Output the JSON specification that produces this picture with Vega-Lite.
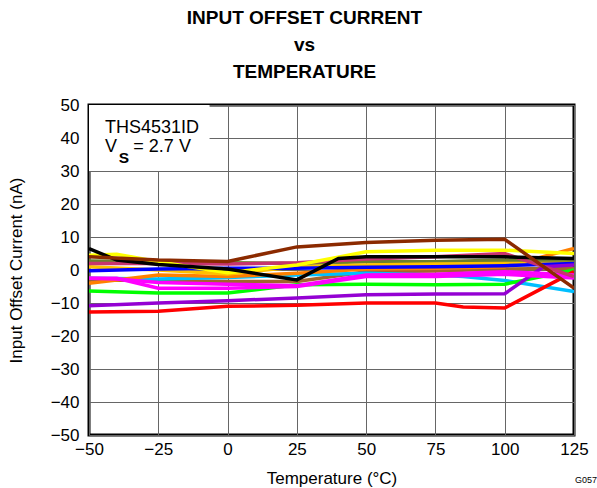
{
  "$schema": "https://vega.github.io/schema/vega-lite/v6.json",
  "width": 485,
  "height": 330,
  "autosize": "none",
  "padding": {"left": 89, "top": 105, "right": 23, "bottom": 53},
  "background": "white",
  "title": {
    "text": ["INPUT OFFSET CURRENT", "vs", "TEMPERATURE"],
    "font": "Liberation Sans",
    "fontSize": 19,
    "fontWeight": "bold",
    "lineHeight": 27,
    "color": "black",
    "anchor": "middle",
    "dx": -27,
    "offset": 14
  },
  "config": {
    "view": {"stroke": "black", "strokeWidth": 3},
    "axis": {
      "labelFont": "Liberation Sans",
      "titleFont": "Liberation Sans",
      "labelFontSize": 17,
      "titleFontSize": 17,
      "titleFontWeight": "normal",
      "labelColor": "black",
      "titleColor": "black",
      "ticks": false,
      "domain": false,
      "labelOverlap": false,
      "gridColor": "#666666",
      "gridOpacity": 1,
      "gridWidth": 1
    }
  },
  "datasets": {
    "curves": [
      {"s": "a_tan", "t": -50, "v": -3}, {"s": "a_tan", "t": -25, "v": -3.2}, {"s": "a_tan", "t": 0, "v": -3.5}, {"s": "a_tan", "t": 25, "v": -3.5}, {"s": "a_tan", "t": 50, "v": -0.5}, {"s": "a_tan", "t": 75, "v": -0.3}, {"s": "a_tan", "t": 100, "v": 0.3}, {"s": "a_tan", "t": 125, "v": 0.5},
      {"s": "b_cyan", "t": -50, "v": -2.5}, {"s": "b_cyan", "t": -25, "v": -2.7}, {"s": "b_cyan", "t": 0, "v": -2.3}, {"s": "b_cyan", "t": 25, "v": -1.5}, {"s": "b_cyan", "t": 50, "v": -1}, {"s": "b_cyan", "t": 75, "v": -1.5}, {"s": "b_cyan", "t": 85, "v": -2}, {"s": "b_cyan", "t": 100, "v": -3.2}, {"s": "b_cyan", "t": 125, "v": -6.5},
      {"s": "c_orange", "t": -50, "v": -4}, {"s": "c_orange", "t": -40, "v": -3}, {"s": "c_orange", "t": -25, "v": -1.5}, {"s": "c_orange", "t": 0, "v": -2}, {"s": "c_orange", "t": 25, "v": -1}, {"s": "c_orange", "t": 50, "v": 0.3}, {"s": "c_orange", "t": 75, "v": 0.5}, {"s": "c_orange", "t": 100, "v": 1}, {"s": "c_orange", "t": 125, "v": 6.5},
      {"s": "d_olive", "t": -50, "v": 2.7}, {"s": "d_olive", "t": -25, "v": 2.5}, {"s": "d_olive", "t": 0, "v": 2.2}, {"s": "d_olive", "t": 25, "v": 2}, {"s": "d_olive", "t": 50, "v": 2.5}, {"s": "d_olive", "t": 75, "v": 2.5}, {"s": "d_olive", "t": 100, "v": 3}, {"s": "d_olive", "t": 125, "v": 2.8},
      {"s": "e_gold", "t": -50, "v": 1}, {"s": "e_gold", "t": -25, "v": 0}, {"s": "e_gold", "t": 0, "v": -1.2}, {"s": "e_gold", "t": 25, "v": 1}, {"s": "e_gold", "t": 50, "v": 1.5}, {"s": "e_gold", "t": 75, "v": 1.8}, {"s": "e_gold", "t": 100, "v": 2}, {"s": "e_gold", "t": 125, "v": 2},
      {"s": "f_blue", "t": -50, "v": -0.2}, {"s": "f_blue", "t": -25, "v": 0.3}, {"s": "f_blue", "t": 0, "v": 0.5}, {"s": "f_blue", "t": 25, "v": 0.5}, {"s": "f_blue", "t": 50, "v": 0.8}, {"s": "f_blue", "t": 75, "v": 1}, {"s": "f_blue", "t": 100, "v": 1.3}, {"s": "f_blue", "t": 125, "v": 2},
      {"s": "g_green", "t": -50, "v": -6.4}, {"s": "g_green", "t": -25, "v": -7}, {"s": "g_green", "t": 0, "v": -7}, {"s": "g_green", "t": 25, "v": -4.5}, {"s": "g_green", "t": 50, "v": -4.3}, {"s": "g_green", "t": 75, "v": -4.5}, {"s": "g_green", "t": 100, "v": -4.3}, {"s": "g_green", "t": 125, "v": 0},
      {"s": "h_purple", "t": -50, "v": -10.8}, {"s": "h_purple", "t": -25, "v": -10}, {"s": "h_purple", "t": 0, "v": -9.3}, {"s": "h_purple", "t": 25, "v": -8.5}, {"s": "h_purple", "t": 50, "v": -7.5}, {"s": "h_purple", "t": 75, "v": -7.3}, {"s": "h_purple", "t": 100, "v": -7.2}, {"s": "h_purple", "t": 114, "v": 1}, {"s": "h_purple", "t": 125, "v": 1.5},
      {"s": "i_red", "t": -50, "v": -12.7}, {"s": "i_red", "t": -25, "v": -12.5}, {"s": "i_red", "t": 0, "v": -11}, {"s": "i_red", "t": 25, "v": -10.7}, {"s": "i_red", "t": 50, "v": -10}, {"s": "i_red", "t": 75, "v": -10}, {"s": "i_red", "t": 85, "v": -11.2}, {"s": "i_red", "t": 100, "v": -11.5}, {"s": "i_red", "t": 125, "v": -0.5},
      {"s": "j_magenta2", "t": -50, "v": -2.5}, {"s": "j_magenta2", "t": -40, "v": -2.7}, {"s": "j_magenta2", "t": -25, "v": -3.8}, {"s": "j_magenta2", "t": 0, "v": -4.3}, {"s": "j_magenta2", "t": 25, "v": -4.8}, {"s": "j_magenta2", "t": 50, "v": -1.5}, {"s": "j_magenta2", "t": 75, "v": -1.3}, {"s": "j_magenta2", "t": 100, "v": -0.5}, {"s": "j_magenta2", "t": 125, "v": -1.5},
      {"s": "k_magenta", "t": -50, "v": -2.5}, {"s": "k_magenta", "t": -40, "v": -2.5}, {"s": "k_magenta", "t": -25, "v": -5.5}, {"s": "k_magenta", "t": 0, "v": -5.5}, {"s": "k_magenta", "t": 25, "v": -5}, {"s": "k_magenta", "t": 50, "v": -2}, {"s": "k_magenta", "t": 75, "v": -2}, {"s": "k_magenta", "t": 100, "v": -1.3}, {"s": "k_magenta", "t": 125, "v": -2.4},
      {"s": "l_pink", "t": -50, "v": 2}, {"s": "l_pink", "t": -25, "v": 2}, {"s": "l_pink", "t": 0, "v": 1.8}, {"s": "l_pink", "t": 25, "v": 2.2}, {"s": "l_pink", "t": 50, "v": 3.3}, {"s": "l_pink", "t": 75, "v": 4}, {"s": "l_pink", "t": 100, "v": 5}, {"s": "l_pink", "t": 125, "v": -2},
      {"s": "m_yellow", "t": -50, "v": 4.5}, {"s": "m_yellow", "t": -40, "v": 4.8}, {"s": "m_yellow", "t": -25, "v": 2.5}, {"s": "m_yellow", "t": 0, "v": -0.8}, {"s": "m_yellow", "t": 25, "v": 1.5}, {"s": "m_yellow", "t": 50, "v": 5.5}, {"s": "m_yellow", "t": 75, "v": 6}, {"s": "m_yellow", "t": 100, "v": 6}, {"s": "m_yellow", "t": 125, "v": 5},
      {"s": "n_black", "t": -50, "v": 6.5}, {"s": "n_black", "t": -40, "v": 3}, {"s": "n_black", "t": -25, "v": 1.7}, {"s": "n_black", "t": 0, "v": 0.3}, {"s": "n_black", "t": 25, "v": -3}, {"s": "n_black", "t": 40, "v": 3.5}, {"s": "n_black", "t": 50, "v": 4}, {"s": "n_black", "t": 75, "v": 4}, {"s": "n_black", "t": 100, "v": 4}, {"s": "n_black", "t": 125, "v": 3.5},
      {"s": "o_brown", "t": -50, "v": 4}, {"s": "o_brown", "t": -25, "v": 3}, {"s": "o_brown", "t": 0, "v": 2.6}, {"s": "o_brown", "t": 25, "v": 7}, {"s": "o_brown", "t": 50, "v": 8.3}, {"s": "o_brown", "t": 75, "v": 9}, {"s": "o_brown", "t": 100, "v": 9.3}, {"s": "o_brown", "t": 125, "v": -5.5}
    ],
    "box": [{"x": -50, "x2": -6.5, "y": 30, "y2": 50}],
    "line1": [{"label": "THS4531ID", "x": -44.2, "y": 41.4}],
    "lineV": [{"label": "V", "x": -44.2, "y": 35.85}],
    "lineS": [{"label": "S", "x": -39.3, "y": 32.5}],
    "lineEq": [{"label": "= 2.7 V", "x": -34.0, "y": 35.85}],
    "code": [{"label": "G057", "x": 125, "y": -50}]
  },
  "layer": [
    {
      "data": {"name": "box"},
      "mark": {"type": "rect", "fill": "white", "stroke": null},
      "encoding": {
        "x": {"field": "x", "type": "quantitative", "scale": {"domain": [-50, 125], "nice": false, "zero": false},
          "axis": {"values": [-50, -25, 0, 25, 50, 75, 100, 125], "tickCount": 20, "title": "Temperature (°C)", "labelFlush": false, "labelPadding": 6, "titlePadding": 13}},
        "x2": {"field": "x2"},
        "y": {"field": "y", "type": "quantitative", "scale": {"domain": [-50, 50], "nice": false, "zero": false},
          "axis": {"values": [-50, -40, -30, -20, -10, 0, 10, 20, 30, 40, 50], "tickCount": 20, "title": "Input Offset Current (nA)", "labelPadding": 10, "titlePadding": 25}},
        "y2": {"field": "y2"}
      }
    },
    {
      "data": {"name": "curves"},
      "mark": {"type": "line", "strokeWidth": 3.5, "clip": true},
      "encoding": {
        "x": {"field": "t", "type": "quantitative"},
        "y": {"field": "v", "type": "quantitative"},
        "color": {
          "field": "s", "type": "nominal", "legend": null,
          "scale": {
            "domain": ["a_tan", "b_cyan", "c_orange", "d_olive", "e_gold", "f_blue", "g_green", "h_purple", "i_red", "j_magenta2", "k_magenta", "l_pink", "m_yellow", "n_black", "o_brown"],
            "range": ["#A0662E", "#00BFFF", "#FF8000", "#6B7F2E", "#FFC000", "#0000FF", "#00FF00", "#9400D3", "#FF0000", "#FF00FF", "#FF00FF", "#C8346E", "#FFFF00", "#000000", "#8B2A00"]
          }
        },
        "order": {"field": "t", "type": "quantitative"}
      }
    },
    {
      "data": {"name": "line1"},
      "mark": {"type": "text", "font": "Liberation Sans", "fontSize": 18, "align": "left", "baseline": "alphabetic", "color": "black"},
      "encoding": {"x": {"field": "x", "type": "quantitative"}, "y": {"field": "y", "type": "quantitative"}, "text": {"field": "label"}}
    },
    {
      "data": {"name": "lineV"},
      "mark": {"type": "text", "font": "Liberation Sans", "fontSize": 18, "align": "left", "baseline": "alphabetic", "color": "black"},
      "encoding": {"x": {"field": "x", "type": "quantitative"}, "y": {"field": "y", "type": "quantitative"}, "text": {"field": "label"}}
    },
    {
      "data": {"name": "lineS"},
      "mark": {"type": "text", "font": "Liberation Sans", "fontSize": 15.5, "fontWeight": "bold", "align": "left", "baseline": "alphabetic", "color": "black"},
      "encoding": {"x": {"field": "x", "type": "quantitative"}, "y": {"field": "y", "type": "quantitative"}, "text": {"field": "label"}}
    },
    {
      "data": {"name": "lineEq"},
      "mark": {"type": "text", "font": "Liberation Sans", "fontSize": 18, "align": "left", "baseline": "alphabetic", "color": "black"},
      "encoding": {"x": {"field": "x", "type": "quantitative"}, "y": {"field": "y", "type": "quantitative"}, "text": {"field": "label"}}
    },
    {
      "data": {"name": "code"},
      "mark": {"type": "text", "font": "Liberation Sans", "fontSize": 9, "align": "left", "baseline": "middle", "dx": 1, "dy": 45, "color": "black", "clip": false},
      "encoding": {"x": {"field": "x", "type": "quantitative"}, "y": {"field": "y", "type": "quantitative"}, "text": {"field": "label"}}
    }
  ]
}
